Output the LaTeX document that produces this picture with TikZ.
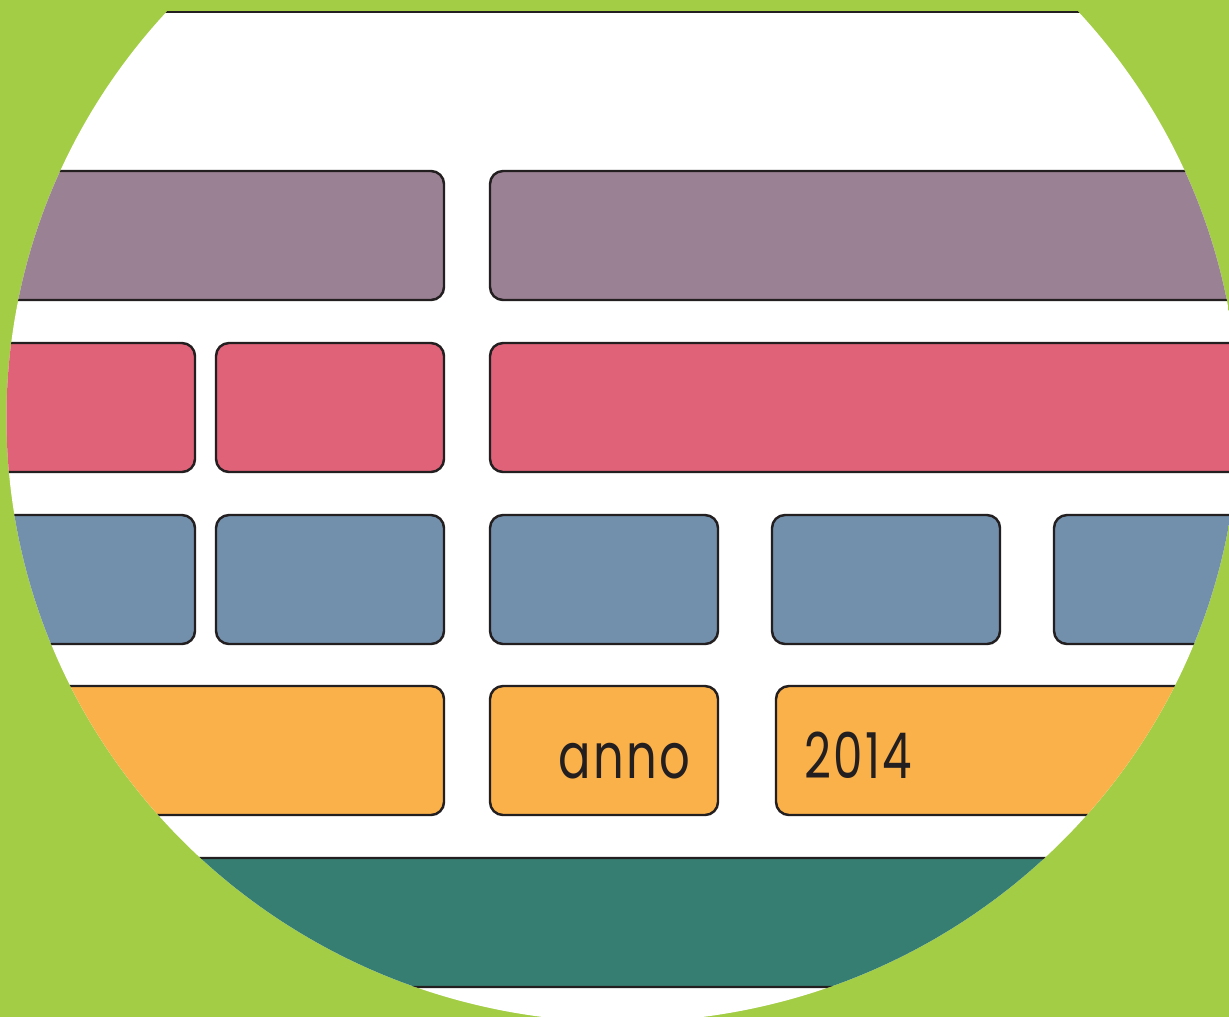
\documentclass[tikz,border=0pt]{standalone}
\usepackage{fontspec}
\usepackage{graphicx}
\newfontfamily\tilefont[LetterSpace=5]{Poppins}
\definecolor{leafgreen}{HTML}{A2CD44}
\definecolor{inkdark}{HTML}{231F20}
\definecolor{mauve}{HTML}{9A8193}
\definecolor{rosered}{HTML}{DF6279}
\definecolor{slateblue}{HTML}{7290AC}
\definecolor{amber}{HTML}{FBB149}
\definecolor{deepteal}{HTML}{377E72}
\begin{document}
\begin{tikzpicture}[x=0.02cm,y=-0.02cm,
 tile/.style={draw=inkdark,line width=1.4pt,rounded corners=0.26cm},
 tiletext/.style={text=inkdark,inner sep=0pt,font=\tilefont\fontsize{36}{36}\selectfont}]
 \useasboundingbox (0,0) rectangle (1229,1017);
 \fill[leafgreen] (0,0) rectangle (1229,1017);
 \begin{scope}
  \clip (622.5,418) ellipse [x radius=616,y radius=604];
  \fill[white] (0,12) rectangle (1229,1017);
  \draw[inkdark,line width=0.7pt] (0,12)--(1229,12);
  \clip (0,12) rectangle (1229,1017);
  % row 1
  \foreach \a/\b in {-30/444,490/1260}{\draw[tile,fill=mauve] (\a,171) rectangle (\b,300);}
  % row 2
  \foreach \a/\b in {-30/195,216/444,490/1260}{\draw[tile,fill=rosered] (\a,343) rectangle (\b,472);}
  % row 3
  \foreach \a/\b in {-30/195,216/444,490/718,772/1000,1054/1282}{\draw[tile,fill=slateblue] (\a,515) rectangle (\b,644);}
  % row 4
  \foreach \a/\b in {-30/444,490/718,776/1260}{\draw[tile,fill=amber] (\a,686) rectangle (\b,815);}
  % row 5
  \draw[tile,fill=deepteal] (-30,858) rectangle (1260,987);
 \end{scope}
 \node[tiletext,anchor=base east] (annolabel) at (691,778) {\scalebox{0.76}[1]{anno}};
 \node[tiletext,anchor=base west] (yearlabel) at (804,778) {\scalebox{0.74}[1]{2014}};
\end{tikzpicture}
\end{document}
